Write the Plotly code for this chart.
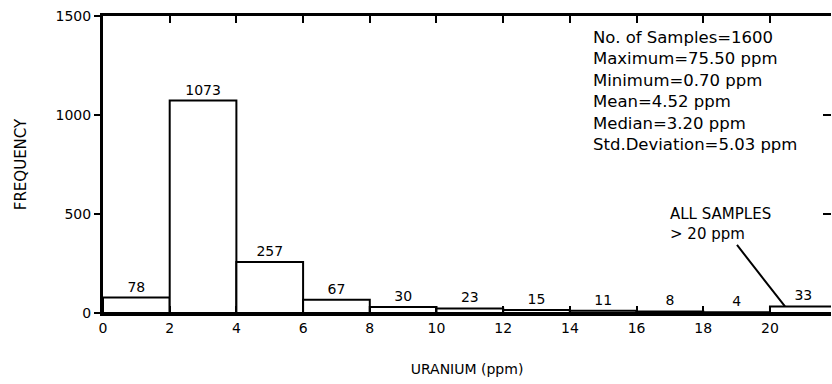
import plotly.graph_objects as go

# Histogram bins (uranium ppm) and frequencies
bin_starts = [0, 2, 4, 6, 8, 10, 12, 14, 16, 18, 20]
bin_width = 2
counts = [78, 1073, 257, 67, 30, 23, 15, 11, 8, 4, 33]

x_ticks = [0, 2, 4, 6, 8, 10, 12, 14, 16, 18, 20]
y_ticks = [0, 500, 1000, 1500]

stats_lines = [
    "No. of Samples=1600",
    "Maximum=75.50 ppm",
    "Minimum=0.70 ppm",
    "Mean=4.52 ppm",
    "Median=3.20 ppm",
    "Std.Deviation=5.03 ppm",
]

FONT = "DejaVu Sans"
centers = [s + bin_width / 2 for s in bin_starts]

fig = go.Figure()
fig.add_trace(go.Bar(
    x=centers,
    y=counts,
    width=[bin_width] * len(counts),
    marker=dict(color="white", line=dict(color="black", width=2)),
    text=[str(c) for c in counts],
    textposition="outside",
    textfont=dict(family=FONT, size=14, color="black"),
    cliponaxis=False,
    hoverinfo="x+y",
))
# invisible copy on the right-hand axis so its ticks are drawn
fig.add_trace(go.Scatter(
    x=centers, y=counts, yaxis="y2", mode="markers",
    marker=dict(opacity=0), hoverinfo="skip", showlegend=False,
))

fig.add_annotation(
    x=20.45, y=counts[-1], xref="x", yref="y",
    text="ALL SAMPLES<br>> 20 ppm", align="left",
    showarrow=True, arrowhead=0, arrowwidth=2, arrowcolor="black",
    ax=-64, ay=-82,
    font=dict(family=FONT, size=15, color="black"),
)

fig.add_annotation(
    x=0.670, y=0.968, xref="paper", yref="paper",
    xanchor="left", yanchor="top", align="left", showarrow=False,
    text="<br>".join(stats_lines),
    font=dict(family=FONT, size=16.5, color="black"),
)

fig.update_layout(
    width=832, height=384,
    margin=dict(l=103, r=1, t=16, b=71, autoexpand=False),
    paper_bgcolor="white", plot_bgcolor="white",
    showlegend=False,
    font=dict(family=FONT, size=14, color="black"),
    xaxis=dict(
        range=[0, 21.83], tickvals=x_ticks, ticktext=[str(v) for v in x_ticks],
        showline=True, linecolor="black", linewidth=3, mirror="ticks",
        ticks="inside", ticklen=7, tickwidth=2, tickcolor="black",
        showgrid=False, zeroline=False, automargin=False,
        title=dict(text="URANIUM (ppm)", standoff=30,
                   font=dict(family=FONT, size=14)),
        tickfont=dict(family=FONT, size=14),
    ),
    yaxis=dict(
        range=[0, 1500], tickvals=y_ticks,
        showline=True, linecolor="black", linewidth=3,
        ticks="outside", ticklen=6, tickwidth=2, tickcolor="black",
        showgrid=False, zeroline=False, automargin=False,
        title=dict(text="FREQUENCY", standoff=26,
                   font=dict(family=FONT, size=15)),
        tickfont=dict(family=FONT, size=14),
    ),
    yaxis2=dict(
        range=[0, 1500], overlaying="y", side="right", anchor="x",
        tickvals=[500, 1000], showticklabels=False, automargin=False,
        ticks="inside", ticklen=8, tickwidth=2, tickcolor="black",
        showline=False, showgrid=False, zeroline=False,
    ),
)

# remove the default 8px page margin so the figure fills the window exactly
fig.write_html(
    "out.html",
    config={"displayModeBar": False},
    post_script="document.body.style.margin='0';",
)
